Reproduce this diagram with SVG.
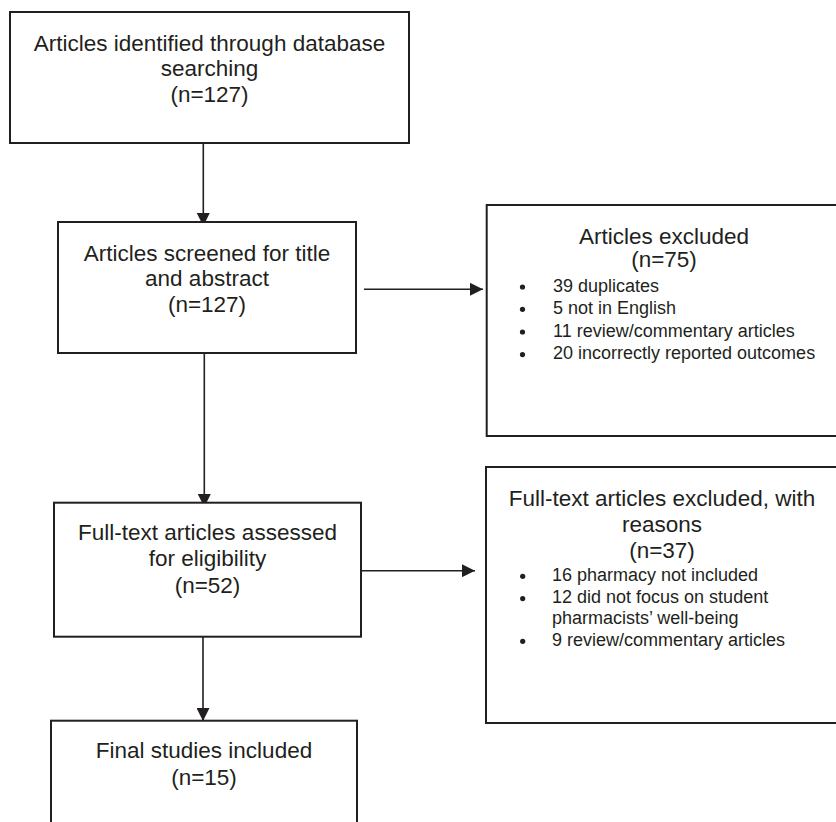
<svg xmlns="http://www.w3.org/2000/svg" width="836" height="822" viewBox="0 0 836 822">
<defs>
<style>
.box{fill:#fff;stroke:#231f20;stroke-width:2}
.t{font-family:"Liberation Sans",Arial,sans-serif;font-size:22.5px;fill:#231f20;text-anchor:middle}
.i{font-family:"Liberation Sans",Arial,sans-serif;font-size:18px;fill:#231f20}
.c{stroke:#231f20;stroke-width:1.6;fill:none}
.b{fill:#231f20}
</style>
<marker id="ah" markerUnits="userSpaceOnUse" markerWidth="14" markerHeight="13" refX="13" refY="6.5" orient="auto">
<path d="M0,0 L13,6.5 L0,13 Z" fill="#231f20"/>
</marker>
</defs>
<rect width="836" height="822" fill="#fff"/>
<g id="connectors">
<line class="c" x1="203.3" y1="143" x2="203.3" y2="226" marker-end="url(#ah)"/>
<line class="c" x1="204.3" y1="350" x2="204.3" y2="507" marker-end="url(#ah)"/>
<line class="c" x1="203" y1="624" x2="203" y2="721" marker-end="url(#ah)"/>
<line class="c" x1="364" y1="289.3" x2="483" y2="289.3" marker-end="url(#ah)"/>
<line class="c" x1="359" y1="570.7" x2="475" y2="570.7" marker-end="url(#ah)"/>
</g>
<g id="identified">
<rect class="box" x="10" y="12" width="399" height="131"/>
<text class="t" x="209.5" y="50.5">Articles identified through database</text>
<text class="t" x="209.5" y="76">searching</text>
<text class="t" x="209.5" y="101.5">(n=127)</text>
</g>
<g id="screened">
<rect class="box" x="58" y="222" width="298" height="131"/>
<text class="t" x="207" y="260.7">Articles screened for title</text>
<text class="t" x="207" y="286">and abstract</text>
<text class="t" x="207" y="312.3">(n=127)</text>
</g>
<g id="excluded">
<rect class="box" x="486.7" y="205" width="360" height="231"/>
<text class="t" x="664" y="244">Articles excluded</text>
<text class="t" x="664" y="267.3">(n=75)</text>
<circle class="b" cx="522.5" cy="287" r="2.6"/>
<text class="i" x="553" y="291.7">39 duplicates</text>
<circle class="b" cx="522.5" cy="309.3" r="2.6"/>
<text class="i" x="553" y="314">5 not in English</text>
<circle class="b" cx="522.5" cy="332" r="2.6"/>
<text class="i" x="553" y="336.7">11 review/commentary articles</text>
<circle class="b" cx="522.5" cy="354.6" r="2.6"/>
<text class="i" x="553" y="359.3">20 incorrectly reported outcomes</text>
</g>
<g id="assessed">
<rect class="box" x="54" y="502.7" width="307" height="134"/>
<text class="t" x="207.5" y="540">Full-text articles assessed</text>
<text class="t" x="207.5" y="566">for eligibility</text>
<text class="t" x="207.5" y="593.3">(n=52)</text>
</g>
<g id="fulltext-excluded">
<rect class="box" x="486" y="467" width="360" height="256"/>
<text class="t" x="662" y="506">Full-text articles excluded, with</text>
<text class="t" x="662" y="531.7">reasons</text>
<text class="t" x="662" y="558.3">(n=37)</text>
<circle class="b" cx="522.7" cy="576.3" r="2.6"/>
<text class="i" x="552" y="581">16 pharmacy not included</text>
<circle class="b" cx="522.7" cy="598.6" r="2.6"/>
<text class="i" x="552" y="603.3">12 did not focus on student</text>
<text class="i" x="552" y="624">pharmacists’ well-being</text>
<circle class="b" cx="522.7" cy="641.3" r="2.6"/>
<text class="i" x="552" y="646">9 review/commentary articles</text>
</g>
<g id="included">
<rect class="box" x="51" y="720.7" width="306" height="120"/>
<text class="t" x="204" y="758.3">Final studies included</text>
<text class="t" x="204" y="785">(n=15)</text>
</g>
</svg>
